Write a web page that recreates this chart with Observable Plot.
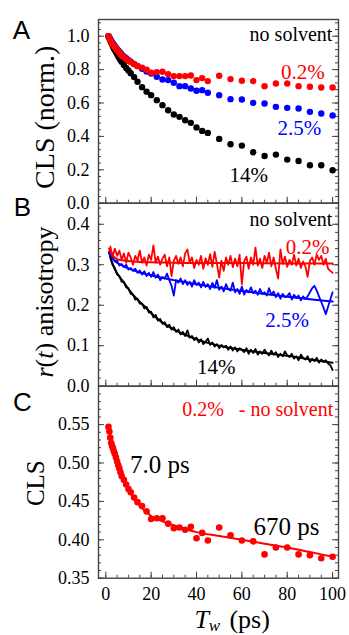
<!DOCTYPE html>
<html><head><meta charset="utf-8">
<script src="https://cdn.jsdelivr.net/npm/d3@7"></script>
<script src="https://cdn.jsdelivr.net/npm/@observablehq/plot@0.6"></script>
<style>
body{margin:0;background:#fff;}
#chart{position:relative;width:349px;height:635px;}
#chart svg{position:absolute;left:0;top:0;overflow:visible;}
</style></head><body><div id="chart"></div>
<script>
// ---------- data ----------
const tw = [1.2,1.6,2,2.4,2.8,3.2,3.6,4,4.5,5,5.5,6,6.5,7,8,9,10,11,12.5,14,16,18,20,22.5,25,27.5,30,32.5,35,37.5,40,42.5,45,50,55,60,65,70,75,80,85,90,95,100];
const clsNorm02 = [1.000,0.989,0.974,0.962,0.954,0.949,0.941,0.936,0.927,0.918,0.909,0.901,0.892,0.883,0.874,0.863,0.852,0.845,0.832,0.821,0.812,0.799,0.781,0.785,0.787,0.773,0.761,0.761,0.761,0.765,0.737,0.749,0.731,0.763,0.743,0.733,0.731,0.701,0.717,0.717,0.701,0.697,0.693,0.693];
const clsNorm25 = [1.000,0.992,0.982,0.972,0.963,0.955,0.947,0.940,0.931,0.922,0.914,0.906,0.899,0.891,0.879,0.868,0.857,0.848,0.834,0.822,0.805,0.789,0.777,0.757,0.741,0.737,0.721,0.701,0.701,0.687,0.673,0.677,0.661,0.647,0.623,0.621,0.601,0.597,0.577,0.571,0.567,0.547,0.537,0.525];
const clsNorm14 = [1.000,0.988,0.975,0.962,0.950,0.938,0.927,0.917,0.905,0.893,0.880,0.869,0.858,0.847,0.828,0.810,0.795,0.778,0.755,0.727,0.695,0.668,0.647,0.617,0.587,0.557,0.531,0.517,0.497,0.481,0.453,0.433,0.421,0.385,0.353,0.345,0.305,0.283,0.291,0.261,0.253,0.227,0.227,0.197];

const tB = [2,3,4,5,6,7,8,9,10,11,12,13,14,15,16,17,18,19,20,21,22,23,24,25,26,27,28,29,30,31,32,33,34,35,36,37,38,39,40,41,42,43,44,45,46,47,48,49,50,51,52,53,54,55,56,57,58,59,60,61,62,63,64,65,66,67,68,69,70,71,72,73,74,75,76,77,78,79,80,81,82,83,84,85,86,87,88,89,90,91,92,93,94,95,96,97,98,99,100];
const aniso02 = [0.345,0.320,0.340,0.322,0.335,0.312,0.328,0.305,0.330,0.318,
0.300,0.322,0.310,0.335,0.305,0.318,0.298,0.325,0.312,0.348,
0.305,0.320,0.300,0.315,0.325,0.296,0.318,0.272,0.310,0.322,
0.302,0.318,0.296,0.328,0.338,0.305,0.318,0.292,0.312,0.300,
0.322,0.290,0.316,0.300,0.326,0.295,0.332,0.302,0.268,0.310,
0.285,0.318,0.300,0.322,0.294,0.315,0.296,0.325,0.252,0.308,
0.320,0.290,0.318,0.300,0.342,0.298,0.315,0.292,0.322,0.305,
0.330,0.296,0.318,0.290,0.266,0.338,0.302,0.320,0.295,0.312,
0.300,0.325,0.298,0.315,0.292,0.308,0.296,0.270,0.310,0.318,
0.300,0.325,0.312,0.322,0.300,0.315,0.290,0.285,0.280];
const aniso25 = [0.322,0.318,0.308,0.310,0.298,0.302,0.294,0.300,0.288,0.292,
0.285,0.290,0.280,0.286,0.276,0.284,0.272,0.280,0.270,0.282,
0.268,0.276,0.262,0.270,0.266,0.278,0.262,0.248,0.224,0.262,
0.256,0.266,0.252,0.262,0.250,0.258,0.246,0.262,0.250,0.256,
0.244,0.258,0.245,0.252,0.240,0.255,0.243,0.262,0.238,0.246,
0.234,0.252,0.240,0.236,0.256,0.232,0.240,0.228,0.246,0.226,
0.238,0.232,0.244,0.230,0.236,0.226,0.240,0.228,0.232,0.224,
0.242,0.226,0.234,0.220,0.230,0.216,0.228,0.220,0.222,0.230,
0.214,0.226,0.218,0.224,0.212,0.222,0.215,0.222,0.232,0.242,
0.248,0.236,0.222,0.208,0.194,0.178,0.196,0.214,0.232];
const aniso14 = [0.322,0.300,0.292,0.276,0.272,0.258,0.258,0.244,0.242,0.228,
0.226,0.214,0.216,0.204,0.204,0.192,0.196,0.182,0.184,0.170,
0.176,0.162,0.166,0.154,0.158,0.146,0.152,0.140,0.146,0.134,
0.140,0.128,0.134,0.124,0.138,0.120,0.124,0.114,0.120,0.108,
0.116,0.104,0.110,0.118,0.102,0.108,0.098,0.104,0.094,0.102,
0.096,0.100,0.090,0.098,0.088,0.096,0.086,0.094,0.090,0.084,
0.094,0.080,0.090,0.082,0.092,0.078,0.086,0.080,0.090,0.082,
0.076,0.088,0.078,0.084,0.072,0.080,0.074,0.086,0.076,0.072,
0.080,0.068,0.074,0.064,0.078,0.070,0.066,0.074,0.060,0.068,
0.062,0.070,0.058,0.066,0.060,0.064,0.056,0.052,0.040];

const fitT02 = [1.5,2,3,4,5,7,10,15,20,30,40,60,80,100];
const fit02  = [0.340,0.333,0.324,0.318,0.314,0.311,0.309,0.307,0.306,0.305,0.304,0.304,0.303,0.303];
const fitT25 = [1.5,2,3,4,5,6.5,8,10,15,20,25,30,40,50,60,70,80,90,100];
const fit25  = [0.330,0.324,0.316,0.310,0.305,0.300,0.296,0.291,0.281,0.274,0.267,0.262,0.252,0.243,0.235,0.228,0.221,0.215,0.209];
const fitT14 = [1.5,2,3,4,5,6.5,8,10,12,15,17.5,20,25,30,35,40,45,50,60,70,80,90,100];
const fit14  = [0.332,0.318,0.302,0.289,0.279,0.267,0.256,0.240,0.226,0.208,0.195,0.180,0.157,0.140,0.127,0.116,0.107,0.100,0.090,0.082,0.075,0.066,0.058];

const cls02 = [0.547,0.541,0.533,0.526,0.522,0.519,0.515,0.512,0.507,0.502,0.497,0.493,0.488,0.483,0.478,0.472,0.466,0.462,0.455,0.449,0.444,0.437,0.427,0.428,0.428,0.421,0.415,0.416,0.413,0.417,0.402,0.409,0.399,0.416,0.406,0.399,0.398,0.381,0.390,0.390,0.381,0.380,0.376,0.378];
const fitTC = [1.2,2,3,4,5,6,7,8,10,12,14,16,18,20,25,30,35,40,50,60,70,80,90,100];
const fitC  = [0.548,0.535,0.522,0.511,0.501,0.492,0.484,0.477,0.465,0.455,0.447,0.441,0.436,0.431,0.424,0.419,0.414,0.410,0.405,0.400,0.395,0.390,0.384,0.378];

const yTicksA = [0, 0.2, 0.4, 0.6, 0.8, 1.0];
const yTicksB = [0, 0.1, 0.2, 0.3, 0.4];
const yTicksC = [0.35, 0.40, 0.45, 0.50, 0.55];
const xTicks = [0, 20, 40, 60, 80, 100];

// ---------- layout ----------
const W = 349, H = 635, ML = 98, MR = 11, FW = W - ML - MR;
const AX = "#444";
const SERIF = "Liberation Serif";
const SANS = "Liberation Sans";
const RED = "#ff0000", BLUE = "#0000ff", BLACK = "#000000";
const xDomain = [-3.2, 102.6];
const xMinor = d3.range(0, 101, 5);

const rows = (xs, ys) => xs.map((x, i) => ({x, y: ys[i]}));

function panel(o) {
  const frameH = H - o.mt - o.mb;
  const marks = [
    Plot.tickY(o.yMinor, {y: d => d, insetRight: FW - 3, stroke: AX}),
    Plot.tickY(o.yMinor, {y: d => d, insetLeft: FW - 3, stroke: AX}),
    Plot.tickY(o.yMajor, {y: d => d, insetRight: FW - 6, stroke: AX}),
    Plot.tickY(o.yMajor, {y: d => d, insetLeft: FW - 6, stroke: AX}),
    Plot.tickX(xMinor, {x: d => d, insetTop: frameH - 3, stroke: AX}),
    Plot.tickX(xTicks, {x: d => d, insetTop: frameH - 6, stroke: AX}),
    Plot.text(o.yMajor, {y: d => d, text: d => o.fmt(d), frameAnchor: "left", textAnchor: "end", lineAnchor: "middle", dx: -9, fontSize: 18, fontFamily: SERIF, fill: "#000"}),
    ...o.marks,
    Plot.frame({stroke: AX, strokeWidth: 1.4})
  ];
  return Plot.plot({
    width: W, height: H,
    marginLeft: ML, marginRight: MR, marginTop: o.mt, marginBottom: o.mb,
    x: {domain: xDomain, axis: null},
    y: {domain: o.yDomain, axis: null},
    style: {background: "transparent", overflow: "visible", fontFamily: SERIF, fontSize: "18px"},
    marks
  });
}

const lbl = (s, opts) => Plot.text([s], {text: d => d, fontFamily: SERIF, textAnchor: "middle", lineAnchor: "middle", ...opts});
const letter = (s, opts) => Plot.text([s], {text: d => d, fontFamily: SANS, frameAnchor: "top-left", textAnchor: "middle", lineAnchor: "middle", fontSize: 26, ...opts});

const A = panel({
  mt: 19, mb: H - 202.7, yDomain: [0, 1.1], yMajor: yTicksA, yMinor: d3.range(0, 1.1, 0.04), fmt: d3.format(".1f"),
  marks: [
    Plot.dot(rows(tw, clsNorm14), {x: "x", y: "y", r: 3.2, fill: BLACK}),
    Plot.dot(rows(tw, clsNorm25), {x: "x", y: "y", r: 3.2, fill: BLUE}),
    Plot.dot(rows(tw, clsNorm02), {x: "x", y: "y", r: 3.2, fill: RED}),
    lbl("no solvent", {x: 99.9, y: 1.007, textAnchor: "end", fontSize: 20}),
    lbl("0.2%", {x: 86.9, y: 0.787, fontSize: 21, fill: RED}),
    lbl("2.5%", {x: 85.4, y: 0.447, fontSize: 21, fill: BLUE}),
    lbl("14%", {x: 63.0, y: 0.166, fontSize: 21, fill: BLACK}),
    lbl("CLS (norm.)", {frameAnchor: "left", rotate: -90, dx: -53, dy: 6, fontSize: 28}),
    letter("A", {dx: -77, dy: 11})
  ]
});

const B = panel({
  mt: 202.7, mb: H - 385.7, yDomain: [0, 0.452], yMajor: yTicksB, yMinor: d3.range(0, 0.45, 0.02), fmt: d3.format(".1f"),
  marks: [
    Plot.line(rows(tB, aniso14), {x: "x", y: "y", stroke: BLACK, strokeWidth: 1.8}),
    Plot.line(rows(fitT14, fit14), {x: "x", y: "y", stroke: BLACK, strokeWidth: 2, curve: "monotone-x"}),
    Plot.line(rows(tB, aniso25), {x: "x", y: "y", stroke: BLUE, strokeWidth: 1.8}),
    Plot.line(rows(fitT25, fit25), {x: "x", y: "y", stroke: BLUE, strokeWidth: 2, curve: "monotone-x"}),
    Plot.line(rows(tB, aniso02), {x: "x", y: "y", stroke: RED, strokeWidth: 1.8}),
    Plot.line(rows(fitT02, fit02), {x: "x", y: "y", stroke: RED, strokeWidth: 2, curve: "monotone-x"}),
    lbl("no solvent", {x: 99.9, y: 0.412, textAnchor: "end", fontSize: 20}),
    lbl("0.2%", {x: 89, y: 0.342, fontSize: 21, fill: RED}),
    lbl("2.5%", {x: 79.9, y: 0.162, fontSize: 21, fill: BLUE}),
    lbl("14%", {x: 48.7, y: 0.047, fontSize: 21, fill: BLACK}),
    lbl("r", {frameAnchor: "left", rotate: -90, dx: -54, dy: 82.8, textAnchor: "start", fontSize: 26, fontStyle: "italic"}),
    lbl("(", {frameAnchor: "left", rotate: -90, dx: -54, dy: 72.7, textAnchor: "start", fontSize: 26}),
    lbl("t", {frameAnchor: "left", rotate: -90, dx: -54, dy: 64.0, textAnchor: "start", fontSize: 26, fontStyle: "italic"}),
    lbl(")", {frameAnchor: "left", rotate: -90, dx: -54, dy: 56.8, textAnchor: "start", fontSize: 26}),
    lbl("anisotropy", {frameAnchor: "left", rotate: -90, dx: -54, dy: 41.6, textAnchor: "start", fontSize: 26}),
    letter("B", {dx: -76, dy: 4})
  ]
});

const C = panel({
  mt: 385.7, mb: H - 577.7, yDomain: [0.35, 0.60], yMajor: yTicksC, yMinor: d3.range(0.35, 0.595, 0.01), fmt: d3.format(".2f"),
  marks: [
    Plot.line(rows(fitTC, fitC), {x: "x", y: "y", stroke: RED, strokeWidth: 2, curve: "monotone-x"}),
    Plot.dot(rows(tw, cls02), {x: "x", y: "y", r: 3.3, fill: RED}),
    Plot.text(xTicks, {x: d => d, text: d => String(d), frameAnchor: "bottom", textAnchor: "middle", lineAnchor: "middle", dy: 16, fontSize: 18, fontFamily: SERIF, fill: "#000"}),
    lbl("0.2%\u00a0\u00a0 - no solvent", {x: 100.3, y: 0.570, textAnchor: "end", fontSize: 20, fill: RED}),
    lbl("7.0 ps", {x: 23.9, y: 0.498, fontSize: 25}),
    lbl("670 ps", {x: 79.7, y: 0.4166, fontSize: 25}),
    lbl("CLS", {frameAnchor: "left", rotate: -90, dx: -63, dy: 1, fontSize: 25}),
    lbl("T", {x: 39.1, frameAnchor: "bottom", dy: 41, textAnchor: "start", fontSize: 26, fontStyle: "italic"}),
    lbl("w", {x: 45.4, frameAnchor: "bottom", dy: 47, textAnchor: "start", fontSize: 17, fontStyle: "italic"}),
    lbl("(ps)", {x: 54.5, frameAnchor: "bottom", dy: 41, textAnchor: "start", fontSize: 26}),
    letter("C", {dx: -76, dy: 16})
  ]
});

const chart = document.getElementById("chart");
chart.append(A, B, C);
</script>
</body></html>
